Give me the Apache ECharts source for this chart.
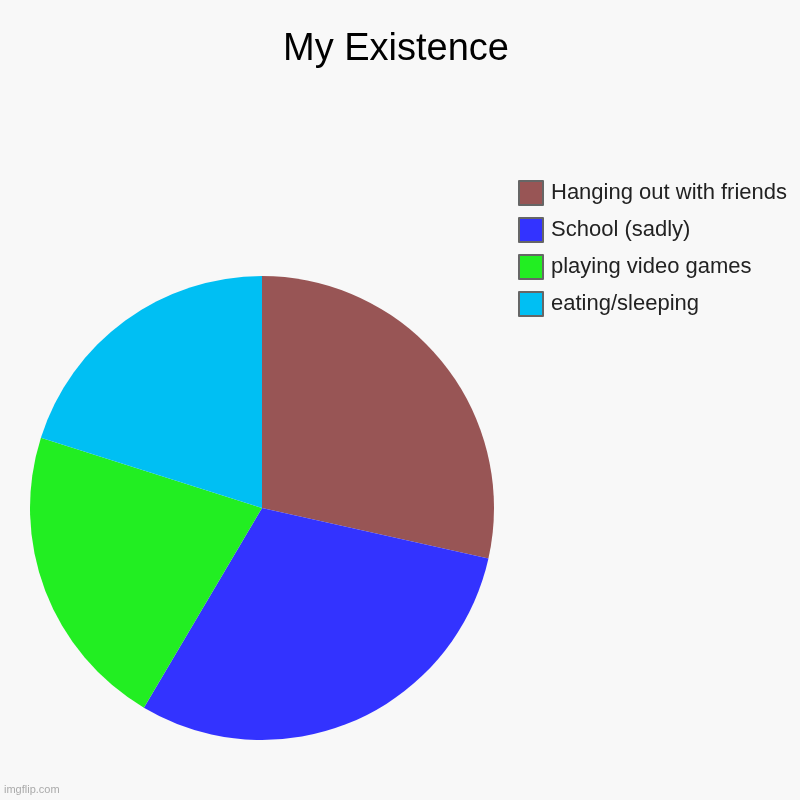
<!DOCTYPE html>
<html>
<head>
<meta charset="utf-8">
<script src="https://cdn.jsdelivr.net/npm/echarts@6/dist/echarts.min.js"></script>
<style>
  html, body { margin: 0; padding: 0; background: #f8f8f8; }
  #chart { width: 800px; height: 800px; }
</style>
</head>
<body>
<div id="chart"></div>
<script>
// slice data (clockwise from 12 o'clock)
var categories = ['Hanging out with friends', 'School (sadly)', 'playing video games', 'eating/sleeping'];
var values = [28.5, 30, 21.4, 20.1];
var colors = ['#985555', '#3333ff', '#22ee22', '#00bff3'];

var chart = echarts.init(document.getElementById('chart'));

var option = {
  backgroundColor: '#f8f8f8',
  animation: false,
  title: {
    text: 'My Existence',
    left: 283,
    top: 31,
    padding: 0,
    textStyle: { fontFamily: 'Liberation Sans, Arial', fontSize: 38, fontWeight: 'normal', color: '#000' }
  },
  legend: {
    orient: 'vertical',
    left: 518,
    top: 180,
    padding: 0,
    itemWidth: 24,
    itemHeight: 24,
    itemGap: 11,
    icon: 'rect',
    selectedMode: false,
    data: categories,
    itemStyle: { borderColor: '#666', borderWidth: 2 },
    textStyle: { fontFamily: 'Liberation Sans, Arial', fontSize: 22, lineHeight: 24, color: '#222', padding: [0, 0, 0, 3] }
  },
  graphic: [{
    type: 'text',
    left: 4,
    top: 784,
    style: { text: 'imgflip.com', fontFamily: 'Liberation Sans, Arial', fontSize: 11, fill: '#aaa' }
  }],
  series: [{
    type: 'pie',
    center: [262, 508],
    radius: 232,
    startAngle: 90,
    clockwise: true,
    label: { show: false },
    labelLine: { show: false },
    emphasis: { disabled: true },
    data: categories.map(function (name, i) {
      return { name: name, value: values[i], itemStyle: { color: colors[i] } };
    })
  }]
};
chart.setOption(option);
</script>
</body>
</html>
